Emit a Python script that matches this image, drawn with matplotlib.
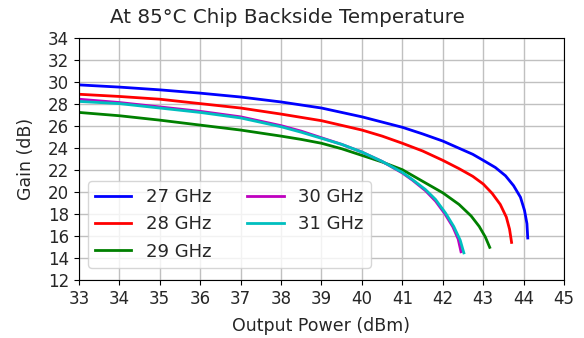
import matplotlib
matplotlib.use('Agg')
import matplotlib.pyplot as plt

# Gain vs output power at 85C chip backside temperature
p27 = [33, 34, 35, 36, 37, 38, 39, 40, 41, 41.5, 42, 42.4, 42.74, 43, 43.3, 43.55, 43.75, 43.92, 44.02, 44.08, 44.1]
g27 = [29.7, 29.5, 29.25, 28.95, 28.6, 28.15, 27.6, 26.8, 25.85, 25.25, 24.6, 23.95, 23.4, 22.85, 22.2, 21.45, 20.55, 19.5, 18.3, 17.1, 15.8]

p28 = [33, 34, 35, 36, 37, 38, 39, 40, 40.5, 41, 41.5, 42, 42.4, 42.74, 43, 43.22, 43.42, 43.57, 43.65, 43.7]
g28 = [28.85, 28.65, 28.4, 28.0, 27.6, 27.05, 26.45, 25.6, 25.05, 24.4, 23.7, 22.85, 22.1, 21.4, 20.7, 19.85, 18.85, 17.7, 16.6, 15.4]

p29 = [33, 34, 35, 36, 37, 38, 38.5, 39, 39.5, 40, 40.5, 41, 41.5, 42, 42.4, 42.7, 42.9, 43.05, 43.16]
g29 = [27.2, 26.9, 26.5, 26.05, 25.6, 25.05, 24.75, 24.4, 23.9, 23.3, 22.7, 22.0, 20.95, 19.9, 18.85, 17.8, 16.85, 15.9, 14.95]

p30 = [33, 34, 35, 36, 37, 38, 38.5, 39, 39.5, 40, 40.5, 41, 41.25, 41.57, 41.82, 42.05, 42.25, 42.38, 42.45]
g30 = [28.4, 28.1, 27.7, 27.3, 26.8, 26.0, 25.5, 24.9, 24.3, 23.6, 22.75, 21.7, 21.05, 20.1, 19.15, 18.0, 16.8, 15.7, 14.55]

p31 = [33, 34, 35, 36, 37, 38, 38.5, 39, 39.5, 40, 40.5, 41, 41.25, 41.57, 41.82, 42.07, 42.27, 42.43, 42.52]
g31 = [28.2, 28.0, 27.6, 27.2, 26.7, 25.9, 25.4, 24.85, 24.3, 23.6, 22.75, 21.75, 21.1, 20.2, 19.3, 18.05, 16.85, 15.6, 14.45]

labels = ['27 GHz', '28 GHz', '29 GHz', '30 GHz', '31 GHz']
colors = ['b', 'r', 'g', 'm', 'c']
xticks = list(range(33, 46))
yticks = list(range(12, 35, 2))

txt = '#262626'

fig = plt.figure(figsize=(5.84, 3.38), dpi=100)
ax = fig.add_axes([0.135, 0.172, 0.831, 0.717])

series = [(p27, g27), (p28, g28), (p29, g29), (p30, g30), (p31, g31)]
for (p, g), lab, c in zip(series, labels, colors):
    ax.plot(p, g, color=c, lw=2, label=lab)

ax.set_xlim(33, 45)
ax.set_ylim(12, 34)
ax.set_xticks(xticks)
ax.set_yticks(yticks)
ax.tick_params(labelsize=12, labelcolor=txt)
ax.grid(True, color='#c0c0c0', lw=1)
ax.set_xlabel('Output Power (dBm)', fontsize=12.5, color=txt, labelpad=7)
ax.set_ylabel('Gain (dB)', fontsize=12.5, color=txt, labelpad=9)
fig.text(0.492, 0.947, 'At 85°C Chip Backside Temperature', fontsize=14.3,
         color=txt, ha='center', va='center')
leg = ax.legend(loc='lower left', bbox_to_anchor=(0.019, 0.05), borderaxespad=0,
                ncol=2, fontsize=13)
for t in leg.get_texts():
    t.set_color(txt)

fig.savefig('out.png', dpi=100)
